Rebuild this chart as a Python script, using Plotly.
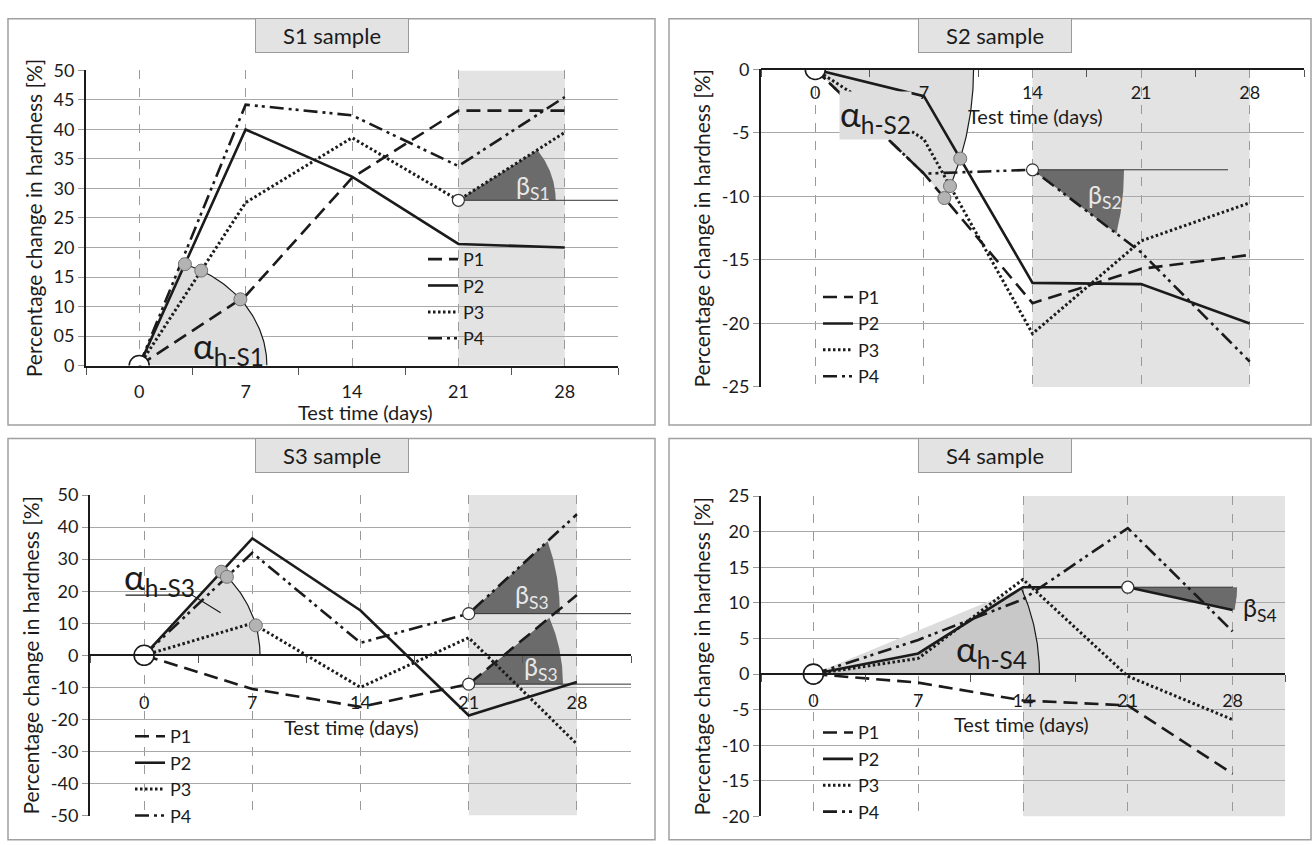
import numpy as np
import plotly.graph_objects as go

W, H = 1314, 845

# ---------------- data ----------------
DAYS = [0, 7, 14, 21, 28]
DAY_LABELS = ["0", "7", "14", "21", "28"]
SERIES_NAMES = ["P1", "P2", "P3", "P4"]

S1_P1 = [0, 11.8, 31.8, 43.2, 43.2]
S1_P2 = [0, 40.0, 32.0, 20.6, 20.0]
S1_P3 = [0, 27.6, 38.6, 28.0, 39.5]
S1_P4 = [0, 44.2, 42.4, 33.8, 45.5]

S2_P1 = [0, -8.2, -18.4, -15.7, -14.6]
S2_P2 = [0, -2.1, -16.8, -16.9, -20.0]
S2_P3 = [0, -5.5, -20.8, -13.5, -10.5]
S2_P4 = [0, -8.2, -7.9, -14.4, -23.0]

S3_P1 = [0, -10.5, -16.1, -9.0, 18.8]
S3_P2 = [0, 36.5, 14.0, -18.8, -8.3]
S3_P3 = [0, 10.0, -10.0, 5.5, -27.7]
S3_P4 = [0, 32.0, 3.9, 13.0, 44.0]

S4_P1 = [0, -1.2, -3.7, -4.4, -14.0]
S4_P2 = [0, 2.9, 12.2, 12.2, 9.0]
S4_P3 = [0, 2.2, 13.3, -0.3, -6.4]
S4_P4 = [0, 4.8, 10.5, 20.5, 6.0]

S1_YTICKS = [0, 5, 10, 15, 20, 25, 30, 35, 40, 45, 50]
S1_YTEXT = ["0", "05", "10", "15", "20", "25", "30", "35", "40", "45", "50"]
S2_YTICKS = [0, -5, -10, -15, -20, -25]
S2_YTEXT = ["0", "-5", "-10", "-15", "-20", "-25"]
S3_YTICKS = [50, 40, 30, 20, 10, 0, -10, -20, -30, -40, -50]
S3_YTEXT = ["50", "40", "30", "20", "10", "0", "-10", "-20", "-30", "-40", "-50"]
S4_YTICKS = [25, 20, 15, 10, 5, 0, -5, -10, -15, -20]
S4_YTEXT = ["25", "20", "15", "10", "5", "0", "-5", "-10", "-15", "-20"]

# ---------------- style ----------------
FONT = "Lato, 'Open Sans', sans-serif"
INK = "#1b1b1b"
SHADE = "#e3e3e3"
DASHES = ["14px,7px", "solid", "2.5px,2.5px", "14px,5px,3px,4px,3px,5px"]
WIDTHS = [2.6, 2.6, 3.0, 2.6]
XRANGE = [-3.5, 31.5]
MINOR = [-3.5, 3.5, 10.5, 17.5, 24.5, 31.5]
TICK_FS, TITLE_FS, LEG_FS = 18, 20, 18


def dom_x(p0, p1):
    return [p0 / W, p1 / W]


def dom_y(top, bot):
    return [1 - bot / H, 1 - top / H]


PANELS = [
    dict(title="S1 sample", series=[S1_P1, S1_P2, S1_P3, S1_P4],
         yt=S1_YTICKS, ytx=S1_YTEXT, yr=[0, 50], px=(86, 618), py=(60, 363),
         shade=(21, 28), xside="bottom", standoff=9,
         alpha=dict(bound=3, a=8.4, b=18.4, circles=[0, 1, 2], fill="#dedede"),
         alpha_lbl=(5.9, 3.0, "α<sub>h-S1</sub>", None),
         betas=[dict(s=2, i=3, a=6.4, b=14.6, xend=31.5, lbl=(25.9, 30.3, "β<sub>S1</sub>"), lc="#e8e8e8")],
         xtitle=(14.9, None), legend=(423, 235), box=(8, 7, 655, 424), tbox=(332, 24)),
    dict(title="S2 sample", series=[S2_P1, S2_P2, S2_P3, S2_P4],
         yt=S2_YTICKS, ytx=S2_YTEXT, yr=[-25, 0], px=(761, 1304), py=(59, 385),
         shade=(14, 28), xside="free", standoff=7,
         alpha=dict(bound=0, a=10.2, b=17.5, circles=[0, 1, 2], fill="#dedede"),
         alpha_lbl=(3.9, -3.6, "α<sub>h-S2</sub>", "#dedede"),
         betas=[dict(s=3, i=2, a=5.9, b=12.5, xend=26.6, lbl=(18.7, -10.0, "β<sub>S2</sub>"), lc="#e8e8e8")],
         xtitle=(14.2, -3.7), legend=(818, 274), box=(669, 7, 1311, 424), tbox=(995, 24)),
    dict(title="S3 sample", series=[S3_P1, S3_P2, S3_P3, S3_P4],
         yt=S3_YTICKS, ytx=S3_YTEXT, yr=[-50, 50], px=(90, 631), py=(496, 825),
         shade=(21, 28), xside="free", standoff=31,
         alpha=dict(bound=1, a=7.5, b=35.0, circles=[1, 3, 2], fill="#dedede"),
         alpha_lbl=(1.0, 24.0, "α<sub>h-S3</sub>", None),
         betas=[dict(s=3, i=3, a=5.9, b=45.0, xend=31.5, lbl=(25.1, 18.5, "β<sub>S3</sub>"), lc="#e8e8e8"),
                dict(s=0, i=3, a=6.1, b=40.0, xend=31.5, lbl=(25.7, -4.0, "β<sub>S3</sub>"), lc="#e8e8e8")],
         xtitle=(13.4, -22.5), legend=(130, 725), box=(8, 438, 655, 850), tbox=(332, 455)),
    dict(title="S4 sample", series=[S4_P1, S4_P2, S4_P3, S4_P4],
         yt=S4_YTICKS, ytx=S4_YTEXT, yr=[-20, 25], px=(761, 1285), py=(497, 826),
         shade=(14, 31.5), xside="free", standoff=10,
         alpha=dict(bound=1, a=15.1, b=30.8, circles=[], fill="#c8c8c8", wedge=True),
         alpha_lbl=(11.9, 3.3, "α<sub>h-S4</sub>", None),
         betas=[dict(s=1, i=3, a=7.3, b=15.0, xend=28.0, lbl=(29.8, 9.2, "β<sub>S4</sub>"), lc=INK)],
         xtitle=(13.9, -7.0), legend=(818, 721), box=(669, 438, 1311, 850), tbox=(995, 455)),
]


def ellipse_hit(xs, ys, start, a, b):
    cx, cy = xs[start], ys[start]
    f = lambda x, y: ((x - cx) / a) ** 2 + ((y - cy) / b) ** 2
    verts = [(cx, cy)]
    for i in range(start, len(xs) - 1):
        x0, y0, x1, y1 = xs[i], ys[i], xs[i + 1], ys[i + 1]
        if f(x1, y1) >= 1:
            lo, hi = 0.0, 1.0
            for _ in range(50):
                m = (lo + hi) / 2
                if f(x0 + m * (x1 - x0), y0 + m * (y1 - y0)) >= 1:
                    hi = m
                else:
                    lo = m
            hx, hy = x0 + lo * (x1 - x0), y0 + lo * (y1 - y0)
            return verts, (hx, hy)
        verts.append((x1, y1))
    return verts, (xs[-1], ys[-1])


def sector(xs, ys, start, a, b):
    verts, (hx, hy) = ellipse_hit(xs, ys, start, a, b)
    cx, cy = xs[start], ys[start]
    t_hit = np.arctan2((hy - cy) / b, (hx - cx) / a)
    ts = np.linspace(t_hit, 0, 60)
    ax_ = cx + a * np.cos(ts)
    ay_ = cy + b * np.sin(ts)
    px_ = [v[0] for v in verts] + [hx] + list(ax_) + [cx]
    py_ = [v[1] for v in verts] + [hy] + list(ay_) + [cy]
    return px_, py_, (hx, hy), (ax_, ay_)


fig = go.Figure()
layout = dict(width=W, height=H, margin=dict(l=0, r=0, t=0, b=0),
              paper_bgcolor="white", plot_bgcolor="white",
              font=dict(family=FONT, color=INK), shapes=[], annotations=[])

for k, P in enumerate(PANELS):
    n = "" if k == 0 else str(k + 1)
    xa, ya = "x" + n, "y" + n
    lg = "legend" + n
    xdom, ydom = dom_x(*P["px"]), dom_y(*P["py"])
    y0, y1 = P["yr"]

    # x axis
    xax = dict(domain=xdom, range=XRANGE, tickvals=DAYS, ticktext=DAY_LABELS,
               ticks="", showline=True, linecolor=INK, linewidth=2,
               showgrid=True, gridcolor="#9a9a9a", griddash="dash", gridwidth=1,
               zeroline=False, tickfont=dict(size=TICK_FS, family=FONT, color=INK),
               ticklabelstandoff=P["standoff"],
               minor=dict(tickvals=MINOR, ticks="outside", ticklen=7,
                          tickcolor="#555", tickwidth=1, showgrid=False))
    if P["xside"] == "bottom":
        xax.update(anchor=ya, side="bottom")
    else:
        pos = ydom[0] + (0 - y0) / (y1 - y0) * (ydom[1] - ydom[0])
        xax.update(anchor="free", position=pos, side="bottom")
    layout["xaxis" + n] = xax
    layout["yaxis" + n] = dict(domain=ydom, range=[y0, y1], anchor=xa,
                               tickvals=P["yt"], ticktext=P["ytx"],
                               ticks="outside", ticklen=6, tickcolor="#999",
                               showline=True, linecolor=INK, linewidth=2,
                               showgrid=True, gridcolor="#a8a8a8", gridwidth=1.2,
                               zeroline=False,
                               tickfont=dict(size=TICK_FS, family=FONT, color=INK),
                               title=dict(text="Percentage change in hardness [%]",
                                          font=dict(size=TITLE_FS + 1, family=FONT, color=INK),
                                          standoff=5))
    # shading region
    layout["shapes"].append(dict(type="rect", xref=xa, yref=ya, x0=P["shade"][0], x1=P["shade"][1],
                                 y0=y0, y1=y1, fillcolor=SHADE, line=dict(width=0), layer="below"))
    # panel border
    bx0, by0, bx1, by1 = P["box"]
    layout["shapes"].append(dict(type="rect", xref="paper", yref="paper",
                                 x0=bx0 / W, x1=bx1 / W, y0=1 - by1 / H, y1=1 - by0 / H,
                                 line=dict(color="#a0a0a0", width=1.5), layer="below"))
    # title box
    tx, ty = P["tbox"]
    layout["annotations"].append(dict(x=tx / W, y=1 - ty / H, xref="paper", yref="paper",
                                      xanchor="center", yanchor="middle",
                                      text=P["title"], showarrow=False, width=150, height=31,
                                      bgcolor="#e3e3e3", bordercolor="#9b9b9b", borderwidth=1,
                                      font=dict(size=22, family=FONT, color=INK)))
    # axis title
    xt, yt = P["xtitle"]
    if yt is None:
        layout["annotations"].append(dict(x=xt, y=1 - 411 / H, xref=xa, yref="paper",
                                          xanchor="center", yanchor="middle",
                                          text="Test time (days)", showarrow=False,
                                          font=dict(size=TITLE_FS, family=FONT, color=INK)))
    else:
        layout["annotations"].append(dict(x=xt, y=yt, xref=xa, yref=ya,
                                          xanchor="center", yanchor="middle",
                                          text="Test time (days)", showarrow=False,
                                          font=dict(size=TITLE_FS, family=FONT, color=INK)))

    ser = P["series"]
    # alpha sector
    al = P["alpha"]
    bs = ser[al["bound"]]
    if al.get("wedge"):
        wx = [DAYS[0], DAYS[2], DAYS[1], DAYS[0]]
        wy = [bs[0], bs[2], bs[1], bs[0]]
        fig.add_trace(go.Scatter(x=wx, y=wy, xaxis=xa, yaxis=ya, mode="lines", fill="toself",
                                 fillcolor="#dcdcdc", line=dict(width=0), showlegend=False,
                                 hoverinfo="skip"))
    sx, sy, hit, (arcx, arcy) = sector(DAYS, bs, 0, al["a"], al["b"])
    fig.add_trace(go.Scatter(x=sx, y=sy, xaxis=xa, yaxis=ya, mode="lines", fill="toself",
                             fillcolor=al["fill"], line=dict(width=0), showlegend=False,
                             hoverinfo="skip"))
    fig.add_trace(go.Scatter(x=arcx, y=arcy, xaxis=xa, yaxis=ya, mode="lines",
                             line=dict(color=INK, width=1.2), showlegend=False, hoverinfo="skip"))
    # beta sectors
    for bt in P["betas"]:
        s = ser[bt["s"]]
        bxp, byp, _, _ = sector(DAYS, s, bt["i"], bt["a"], bt["b"])
        fig.add_trace(go.Scatter(x=bxp, y=byp, xaxis=xa, yaxis=ya, mode="lines", fill="toself",
                                 fillcolor="#6b6b6b", line=dict(width=0), showlegend=False,
                                 hoverinfo="skip"))
        cx, cy = DAYS[bt["i"]], s[bt["i"]]
        fig.add_trace(go.Scatter(x=[cx, bt["xend"]], y=[cy, cy], xaxis=xa, yaxis=ya, mode="lines",
                                 line=dict(color="#333", width=1), showlegend=False, hoverinfo="skip"))
    # S3 leader line for alpha label
    if k == 2:
        fig.add_trace(go.Scatter(x=[-1.2, 3.1, 4.95], y=[18.8, 18.8, 13.3], xaxis=xa, yaxis=ya,
                                 mode="lines", line=dict(color=INK, width=1.2),
                                 showlegend=False, hoverinfo="skip"))

    # series
    for j, (nm, vals) in enumerate(zip(SERIES_NAMES, ser)):
        fig.add_trace(go.Scatter(x=DAYS, y=vals, xaxis=xa, yaxis=ya, mode="lines", name=nm,
                                 line=dict(color=INK, width=WIDTHS[j], dash=DASHES[j]),
                                 legend=lg, showlegend=True))
    # grey circles on alpha arc
    gx, gy = [], []
    for j in al["circles"]:
        _, (hx, hy) = ellipse_hit(DAYS, ser[j], 0, al["a"], al["b"])
        gx.append(hx)
        gy.append(hy)
    if gx:
        fig.add_trace(go.Scatter(x=gx, y=gy, xaxis=xa, yaxis=ya, mode="markers",
                                 marker=dict(size=13, color="#b3b3b3", line=dict(color="#707070", width=1)),
                                 showlegend=False, hoverinfo="skip"))
    # open circles
    fig.add_trace(go.Scatter(x=[DAYS[0]], y=[ser[0][0]], xaxis=xa, yaxis=ya, mode="markers",
                             marker=dict(size=20, color="white", line=dict(color=INK, width=1.6)),
                             showlegend=False, hoverinfo="skip"))
    ox = [DAYS[bt["i"]] for bt in P["betas"]]
    oy = [ser[bt["s"]][bt["i"]] for bt in P["betas"]]
    fig.add_trace(go.Scatter(x=ox, y=oy, xaxis=xa, yaxis=ya, mode="markers",
                             marker=dict(size=12, color="white", line=dict(color="#333", width=1.2)),
                             showlegend=False, hoverinfo="skip"))
    # labels
    ax_, ay_, atxt, abg = P["alpha_lbl"]
    ann = dict(x=ax_, y=ay_, xref=xa, yref=ya, text=atxt, showarrow=False,
               xanchor="center", yanchor="middle",
               font=dict(size=35, family=FONT, color=INK))
    if abg:
        ann.update(bgcolor=abg, borderpad=0)
    layout["annotations"].append(ann)
    for bt in P["betas"]:
        lx, ly, ltxt = bt["lbl"]
        layout["annotations"].append(dict(x=lx, y=ly, xref=xa, yref=ya, text=ltxt, showarrow=False,
                                          xanchor="center", yanchor="middle",
                                          font=dict(size=25, family=FONT, color=bt["lc"])))
    # legend
    lx, ly = P["legend"]
    layout[lg] = dict(x=lx / W, y=1 - ly / H, xanchor="left", yanchor="top",
                      bgcolor="rgba(0,0,0,0)", tracegroupgap=0, itemwidth=30,
                      font=dict(size=LEG_FS, family=FONT, color=INK))

fig.update_layout(**layout)
fig.write_html("out.html", config={"displayModeBar": False},
               post_script="document.body.style.margin='0px';")
